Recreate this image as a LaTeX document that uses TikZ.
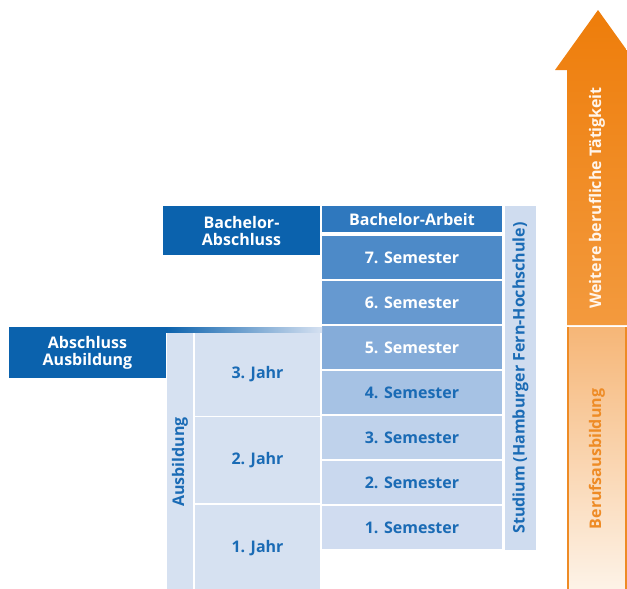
\documentclass[tikz,border=0pt]{standalone}
\usepackage{fontspec}
\setmainfont{Open Sans}
\usetikzlibrary{positioning}

\definecolor{darkbox}{HTML}{0B62AD}
\definecolor{bluetext}{HTML}{1A6BB5}
\definecolor{semBA}{HTML}{2F78BE}
\definecolor{sem7}{HTML}{4D8AC8}
\definecolor{sem6}{HTML}{6699D0}
\definecolor{sem5}{HTML}{85ACD9}
\definecolor{sem4}{HTML}{A6C2E4}
\definecolor{sem3}{HTML}{BFD2EB}
\definecolor{sem2}{HTML}{C9D8EE}
\definecolor{sem1}{HTML}{D0DCF0}
\definecolor{jahrfill}{HTML}{D6E1F1}
\definecolor{studfill}{HTML}{CFDCEF}
\definecolor{arrowtop}{HTML}{EE7D0A}
\definecolor{arrowmid}{HTML}{F39A3E}
\definecolor{berufline}{HTML}{EE8B25}
\definecolor{beruftop}{HTML}{F6B677}
\definecolor{berufbot}{HTML}{FDF3E8}

\tikzset{
  box/.style={rectangle, inner sep=0pt, align=center,
    font=\bfseries\fontsize{16}{17}\selectfont},
  semester/.style={box, minimum width=180pt, minimum height=43pt},
  jahr/.style={box, fill=jahrfill, text=bluetext, minimum width=125pt},
  abschluss/.style={box, fill=darkbox, text=white, minimum width=157pt},
  sidestrip/.style={box, rotate=90, text=bluetext}
}

\begin{document}
\begin{tikzpicture}[x=1pt,y=-1pt]
\useasboundingbox (0,0) rectangle (627,589);

% Studium: Semester
\node[semester, fill=semBA, text=white, minimum height=26pt] (arbeit) at (412,219) {Bachelor-Arbeit};
\foreach \k/\col/\txt in {1/sem1/bluetext, 2/sem2/bluetext, 3/sem3/bluetext, 4/sem4/bluetext,
                          5/sem5/white, 6/sem6/white, 7/sem7/white} {
  \node[semester, fill=\col, text=\txt] (sem\k) at (412, {527.5-(\k-1)*45}) {\k. Semester};
}
\fill[studfill] (505,206) rectangle (536,550);
\node[sidestrip] (studium) at (520.5,378) {Studium (Hamburger Fern-Hochschule)};

% Ausbildung: Jahre
\node[jahr, minimum height=84pt] (jahr3) at (257.5,374) {3. Jahr};
\node[jahr, minimum height=86pt] (jahr2) at (257.5,460) {2. Jahr};
\node[jahr, minimum height=86pt] (jahr1) at (257.5,548) {1. Jahr};
\fill[jahrfill] (167,332) rectangle (193,591);
\node[sidestrip] (ausbildung) at (180,462) {Ausbildung};

% Abschluesse
\node[abschluss, minimum height=49pt] (bachelor) at (241.5,230.5) {Bachelor-\\Abschluss};
\node[abschluss, minimum height=51pt] (ausbab) at (87.5,352.5) {Abschluss\\Ausbildung};
\shade[left color=darkbox, right color=jahrfill] (166,327) rectangle (322,332);

% Pfeil rechts
\begin{scope}
  \clip (0,0) rectangle (627,589);
  \shade[top color=arrowtop, bottom color=arrowmid]
    (567,325) -- (567,70) -- (555,70) -- (598,10) -- (641,70) -- (629,70) -- (629,325) -- cycle;
  \shade[top color=beruftop, bottom color=berufbot] (567,327) rectangle (629,591);
  \draw[berufline, line width=1.5pt] (568,327) -- (568,591);
  \draw[berufline, line width=1.5pt] (626,327) -- (626,591);
\end{scope}
\node[sidestrip, text=white!92!orange] (weitere) at (597,198) {Weitere berufliche Tätigkeit};
\node[sidestrip, text=berufline] (beruf) at (597,459) {Berufsausbildung};

\end{tikzpicture}
\end{document}
